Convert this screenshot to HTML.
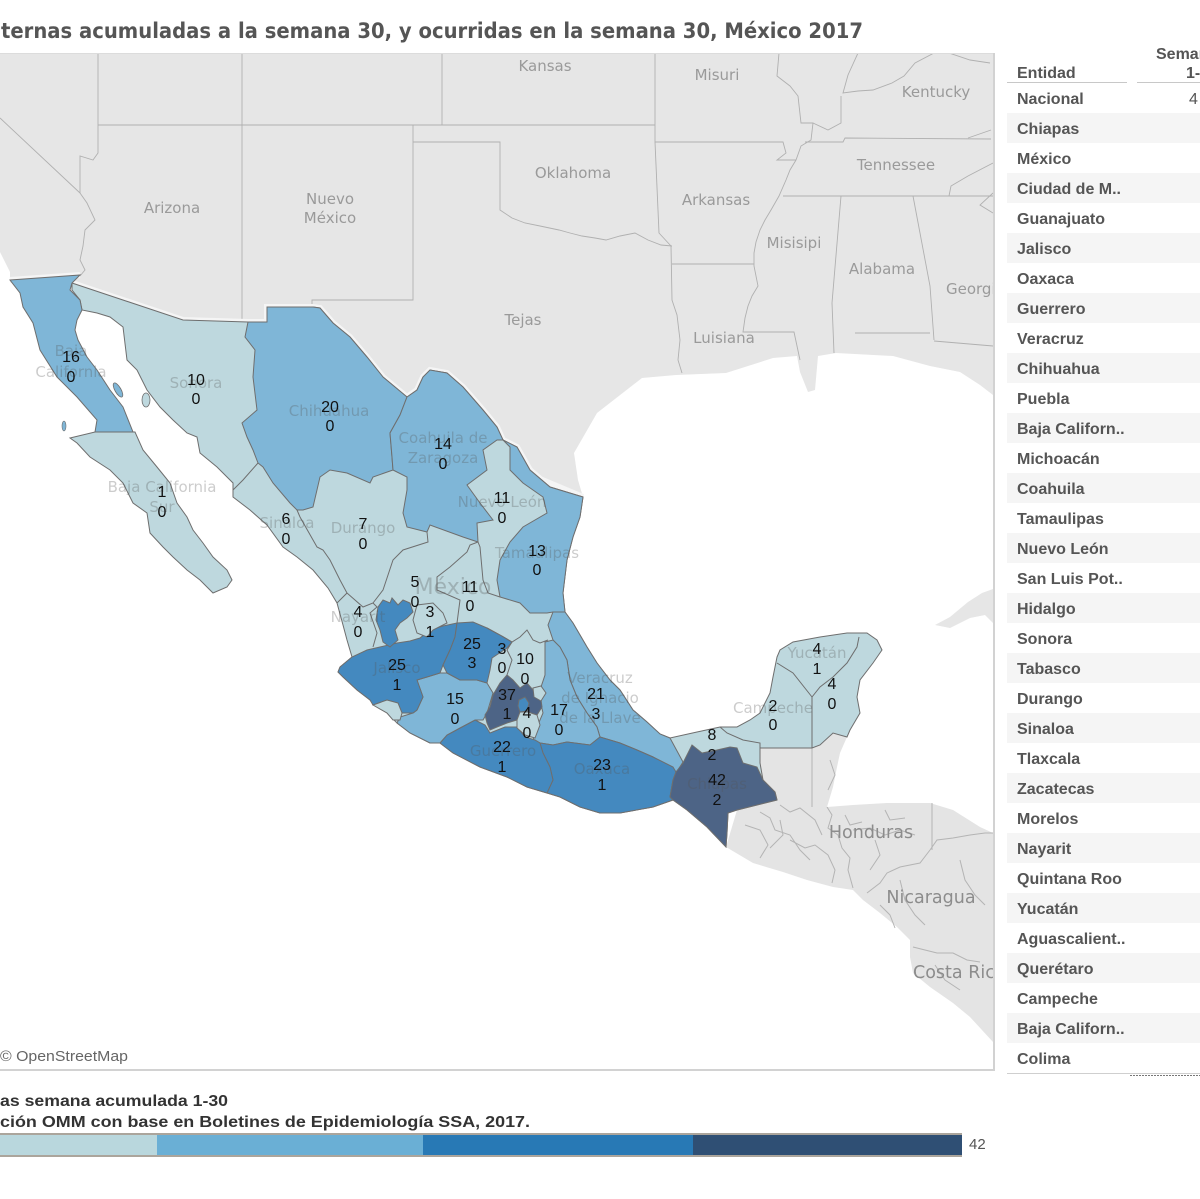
<!DOCTYPE html>
<html><head><meta charset="utf-8"><style>
html,body{margin:0;padding:0;width:1200px;height:1199px;overflow:hidden;background:#fff}
svg{display:block}
.us{font-family:"DejaVu Sans",sans-serif;font-size:15px;fill:#9a9a9a;text-anchor:middle}
.mx{font-family:"DejaVu Sans",sans-serif;font-size:15px;fill:#555;fill-opacity:.3;text-anchor:middle}
.ct{font-family:"DejaVu Sans",sans-serif;font-size:17.5px;fill:#8c8c8c;text-anchor:middle}
.n{font-family:"Liberation Sans",Arial,sans-serif;font-size:16px;fill:#111;text-anchor:middle}
.row{font-family:"Liberation Sans",Arial,sans-serif;font-size:16px;font-weight:bold;fill:#555}
</style></head><body>
<svg width="1200" height="1199" viewBox="0 0 1200 1199" xmlns="http://www.w3.org/2000/svg">
<defs><clipPath id="mc"><rect x="0" y="54" width="993" height="1014"/></clipPath></defs>

<!-- Title -->
<text x="1" y="38" font-family="DejaVu Sans, sans-serif" font-size="21" font-weight="bold" fill="#555" textLength="862" lengthAdjust="spacingAndGlyphs">ternas acumuladas a la semana 30, y ocurridas en la semana 30, México 2017</text>

<g clip-path="url(#mc)">
<rect x="0" y="53" width="993" height="1016" fill="#fff"/>
<!-- US land -->
<polygon fill="#e6e6e6" points="0,53 993,53 993,395 980,385 960,372 930,366 893,356 836,353 818,356 815,390 808,392 800,372 797,356 773,358 726,373 676,375 642,378 597,413 574,453 578,480 583,497 550,487 530,470 517,447 503,440 497,427 483,410 463,387 447,373 430,370 423,377 417,390 407,397 383,377 367,357 350,337 333,323 320,308 313,307 267,307 267,322 248,322 183,320 72,283 80,275 10,280 10,272 0,252"/>
<!-- Central America -->
<polygon fill="#e4e4e4" points="726,847 737,810 777,800 775,792 763,780 757,767 760,763 760,748 812,748 820,745 833,733 847,737 840,753 837,767 833,787 827,807 853,805 887,803 930,803 953,810 980,827 993,833 993,1042 970,1017 953,1003 930,987 913,973 910,957 910,940 897,927 880,913 863,900 853,890 833,887 807,880 783,872 753,863"/>
<!-- Cuba -->
<polygon fill="#e6e6e6" points="935,625 950,617 968,602 982,593 993,589 993,623 985,615 970,618 950,628"/>

<!-- US borders -->
<g fill="none" stroke="#b0b0b0" stroke-width="0.9">
<path d="M98,53 L98,125 L98,153 L93,160 L80,156 L80,193 L87,203 L95,220 L85,230 L83,246 L80,260 L85,270 L80,276"/>
<path d="M0,118 L80,193"/>
<path d="M98,125 L655,125"/>
<path d="M242,53 L242,320"/>
<path d="M442,53 L442,125"/>
<path d="M413,125 L413,300 L312,300 L312,306"/>
<path d="M413,142 L500,142 L500,210 L512,218 L525,223 L540,226 L559,230 L570,233 L582,236 L595,238 L606,240 L620,236 L635,233 L648,240 L661,245 L672,246"/>
<path d="M655,53 L655,142 L659,233 L671,246 L672,300 L677,315 L680,340 L678,360 L682,373"/>
<path d="M655,142 L783,142 L786,153 L777,160 L796,160"/>
<path d="M672,264 L754,264"/>
<path d="M779,53 L777,76 L790,86 L798,96 L801,123 L813,123 L811,140 L801,146 L796,160 L790,170 L786,180 L779,196 L771,210 L765,220 L760,230 L756,242 L754,253 L754,266 L758,286 L752,296 L748,306 L745,318 L743,332 L794,332 L800,360"/>
<path d="M858,53 L848,75 L843,93 L858,91 L873,90 L892,83 L904,76 L915,63 L934,53"/>
<path d="M841,96 L841,123 L828,130 L813,123"/>
<path d="M949,53 L970,60 L990,63"/>
<path d="M805,142 L843,142 L845,138 L991,139"/>
<path d="M968,138 L991,130"/>
<path d="M783,196 L993,196"/>
<path d="M841,196 L832,303 L834,353"/>
<path d="M913,196 L930,286 L934,340"/>
<path d="M855,333 L930,333"/>
<path d="M934,341 L993,346"/>
<path d="M949,196 L951,186 L968,176 L993,163"/>
<path d="M993,193 L980,205 L993,213"/>
</g>

<!-- Central America borders -->
<g fill="none" stroke="#b4b4b4" stroke-width="1">
<path d="M812,748 L812,807"/>
<path d="M827,807 L832,815 L828,828 L838,835 L842,848 L850,858 L848,870 L853,888"/>
<path d="M760,812 L770,818 L775,830 L790,835 L800,850 L810,860"/>
<path d="M780,805 L790,812 L800,808 L815,820 L822,835"/>
<path d="M745,825 L760,830 L768,845 L760,858"/>
<path d="M790,840 L805,848 L815,845 L828,855 L835,870 L832,883"/>
<path d="M853,830 L870,828 L885,835 L900,830 L915,835"/>
<path d="M867,893 L880,883 L887,873 L900,867 L920,863 L930,850 L937,840 L953,838 L970,835 L985,833 L993,833"/>
<path d="M932,803 L932,850"/>
<path d="M875,840 L880,855 L870,870"/>
<path d="M900,880 L905,900 L915,915 L925,925"/>
<path d="M913,947 L937,953 L953,953 L967,960 L980,962"/>
<path d="M935,965 L945,980 L960,990"/>
<path d="M880,905 L890,915 L895,928"/>
<path d="M960,860 L965,880 L975,895 L985,905"/>
<path d="M830,760 L835,775 L828,790"/>
<path d="M780,820 L783,835 L770,848"/>
<path d="M845,815 L850,825 L862,822"/>
<path d="M885,810 L890,820 L905,818"/>
</g>

<!-- Mexico halo -->
<polygon fill="none" stroke="#f5f5f5" stroke-width="6" points="72,283 183,320 248,322 267,322 267,307 313,307 320,308 333,323 350,337 367,357 383,377 407,397 417,390 423,377 430,370 447,373 463,387 483,410 497,427 503,440 517,447 530,470 550,487 583,497"/>
<polyline fill="none" stroke="#f5f5f5" stroke-width="6" points="10,280 80,275"/>

<!-- Mexico mainland (light base) -->
<polygon fill="#bed8de" stroke="#6e6e6e" stroke-width="1" points="72,283 183,320 248,322 267,322 267,307 313,307 320,308 333,323 350,337 367,357 383,377 407,397 417,390 423,377 430,370 447,373 463,387 483,410 497,427 503,440 517,447 530,470 550,487 583,497 580,517 573,537 567,560 563,593 565,612 573,623 587,647 597,663 610,680 620,690 633,710 647,722 660,734 670,738 697,732 720,727 737,727 750,720 760,713 770,693 773,677 777,657 780,650 793,642 820,637 847,633 867,633 877,640 882,650 873,663 860,680 857,697 860,713 850,730 847,737 833,733 820,745 812,748 760,748 760,763 763,780 775,792 777,800 737,810 728,813 727,833 726,847 707,827 687,810 673,800 653,807 620,813 600,813 580,807 560,797 547,793 527,787 507,777 480,767 453,753 440,743 430,743 410,733 397,723 387,713 377,707 370,700 357,690 343,677 338,672 340,667 352,657 347,640 343,625 337,603 328,588 313,570 297,557 283,547 267,525 250,510 233,497 233,483 217,467 200,453 197,437 187,433 173,420 160,407 147,390 137,370 127,360 123,327 110,317 97,313 82,310 80,300 72,290"/>

<!-- Baja California -->
<polygon fill="#7fb6d7" stroke="#6e6e6e" stroke-width="1" points="10,280 80,275 72,283 70,290 80,300 82,310 77,320 75,330 78,340 87,357 97,370 110,390 123,407 133,432 95,432 97,420 77,397 57,377 40,350 33,323 23,307 20,293"/>
<!-- Baja California Sur -->
<polygon fill="#bed8de" stroke="#6e6e6e" stroke-width="1" points="70,438 95,432 135,432 143,450 157,467 170,483 177,503 187,517 193,530 203,543 213,557 227,570 232,580 227,587 213,593 200,580 187,570 173,557 163,547 150,533 147,513 133,503 123,483 110,470 90,457 77,443"/>
<!-- islands -->
<ellipse cx="118" cy="390" rx="3" ry="8" fill="#7fb6d7" stroke="#6e6e6e" stroke-width=".8" transform="rotate(-30 118 390)"/>
<ellipse cx="146" cy="400" rx="4" ry="7" fill="#bed8de" stroke="#6e6e6e" stroke-width=".8"/>
<ellipse cx="64" cy="426" rx="2" ry="5" fill="#7fb6d7" stroke="#6e6e6e" stroke-width=".6"/>

<g stroke="#6e6e6e" stroke-width="1">
<!-- Chihuahua -->
<polygon fill="#7fb6d7" points="248,322 267,322 267,307 313,307 320,308 333,323 350,337 367,357 383,377 407,397 400,415 390,433 392,457 393,470 373,477 370,483 347,473 330,470 320,477 313,507 303,510 297,510 290,503 273,483 263,467 258,463 253,450 247,437 242,423 257,410 253,377 255,350 245,337"/>
<!-- Coahuila -->
<polygon fill="#7fb6d7" points="407,397 417,390 423,377 430,370 447,373 463,387 483,410 497,427 503,440 497,440 483,450 487,470 467,485 480,503 493,520 477,523 478,542 463,537 430,525 427,532 407,527 403,513 407,490 407,477 393,470 392,457 390,433 400,415"/>
<!-- Tamaulipas -->
<polygon fill="#7fb6d7" points="503,440 517,447 530,470 550,487 583,497 580,517 573,537 567,560 563,593 565,612 553,612 547,613 530,613 520,603 500,597 497,580 500,560 510,542 523,527 547,513 543,497 523,483 510,470 510,447"/>
<!-- Veracruz -->
<polygon fill="#7fb6d7" points="553,612 565,612 573,623 587,647 597,663 610,680 620,690 633,710 647,722 660,734 670,738 683,762 678,770 676,772 653,757 637,750 620,743 610,740 600,737 597,727 587,713 577,697 570,680 567,660 560,647 553,640 548,625"/>
<!-- Puebla -->
<polygon fill="#7fb6d7" points="545,642 553,640 560,647 567,660 570,680 577,697 587,713 597,727 600,737 590,745 567,742 553,745 540,743 533,740 537,727 543,713 540,700 540,690 545,675 545,655"/>
<!-- Oaxaca -->
<polygon fill="#4489bf" points="540,743 553,745 567,742 590,745 600,737 610,740 620,743 637,750 653,757 673,767 676,772 673,780 670,797 673,800 653,807 620,813 600,813 580,807 560,797 547,793 553,780 550,767 543,753"/>
<!-- Guerrero -->
<polygon fill="#4489bf" points="440,743 447,735 460,728 475,720 485,725 490,733 505,727 517,727 525,737 535,740 540,743 543,753 550,767 553,780 547,793 527,787 507,777 480,767 453,753"/>
<!-- Michoacan -->
<polygon fill="#7fb6d7" points="397,723 400,717 413,713 417,710 423,697 417,680 427,677 440,673 447,673 460,680 477,680 487,683 493,693 487,713 483,720 475,720 460,728 447,735 440,743 430,743 410,733"/>
<!-- Jalisco -->
<polygon fill="#4489bf" points="338,672 340,667 352,657 367,650 380,647 397,643 410,641 420,638 430,630 443,626 457,623 455,637 450,650 443,665 440,673 427,677 417,680 423,697 417,710 413,713 402,713 398,703 387,700 373,705 370,700 357,690 343,677"/>
<polygon fill="#4489bf" points="378,607 383,600 390,603 392,598 398,605 403,600 410,603 413,612 407,618 400,623 395,630 398,640 390,647 383,642 380,630 376,620"/>
<!-- Colima -->
<polygon fill="#bed8de" points="373,705 387,700 398,703 402,713 400,720 393,720 387,713"/>
<!-- Guanajuato -->
<polygon fill="#4489bf" points="457,623 473,622 487,628 500,635 512,642 507,648 492,658 490,670 487,683 477,680 460,680 447,673 443,665 450,650 455,637"/>
<!-- Edo Mexico -->
<polygon fill="#4d6486" points="487,723 485,715 490,707 493,695 500,683 507,675 513,680 520,688 527,683 533,690 540,692 542,707 537,715 528,712 520,712 517,720 507,723 497,727 490,730"/>
<!-- CDMX -->
<polygon fill="#4489bf" points="519,700 525,697 529,703 527,711 520,712 518,706"/>
<!-- Morelos -->
<polygon fill="#bed8de" points="517,720 520,712 528,712 537,715 540,725 535,738 525,735 517,728"/>
<!-- Tlaxcala -->
<polygon fill="#bed8de" points="533,688 541,686 546,693 541,701 534,697"/>
<!-- Chiapas -->
<polygon fill="#4d6486" points="692,745 702,753 717,750 730,747 737,748 743,763 757,767 763,780 775,792 777,800 737,810 728,813 727,833 726,847 707,827 687,810 673,800 670,797 673,780 676,772 683,763"/>
<!-- Aguascalientes -->
<polygon fill="#bed8de" points="417,605 433,603 443,613 447,623 433,630 427,637 417,633 413,620"/>
</g>

<!-- light-state borders -->
<g fill="none" stroke="#6e6e6e" stroke-width="1">
<polyline points="258,463 243,480 233,490"/>
<polyline points="297,510 300,517 317,547 323,550 330,560 340,580 347,593 337,603"/>
<polyline points="347,593 363,607 373,603 383,590 393,560 403,550 428,542 427,532"/>
<polyline points="373,603 377,607 370,613 377,633 373,647"/>
<polyline points="478,542 470,545 467,552 450,567 437,577 437,590 460,600 457,623"/>
<polyline points="478,542 480,547 483,580 488,593 500,597"/>
<polyline points="487,628 500,635 512,642 520,637 527,630 533,640 540,643 548,640"/>
<polyline points="512,642 507,650 512,660 507,675"/>
<polyline points="720,727 727,733 743,740 760,743 760,748"/>
<polyline points="777,663 793,673 812,697"/>
<polyline points="812,697 820,687 833,677 847,663 857,647 859,637"/>
<polyline points="812,697 812,748"/>
</g>

<!-- US / CA labels -->
<text class="us" x="545" y="71">Kansas</text>
<text class="us" x="717" y="80">Misuri</text>
<text class="us" x="936" y="97">Kentucky</text>
<text class="us" x="573" y="178">Oklahoma</text>
<text class="us" x="896" y="170">Tennessee</text>
<text class="us" x="172" y="213">Arizona</text>
<text class="us" x="330" y="204">Nuevo</text>
<text class="us" x="330" y="223">México</text>
<text class="us" x="716" y="205">Arkansas</text>
<text class="us" x="794" y="248">Misisipi</text>
<text class="us" x="882" y="274">Alabama</text>
<text class="us" x="946" y="294" style="text-anchor:start">Georgia</text>
<text class="us" x="523" y="325">Tejas</text>
<text class="us" x="724" y="343">Luisiana</text>
<text class="ct" x="871" y="838">Honduras</text>
<text class="ct" x="931" y="903">Nicaragua</text>
<text class="ct" x="913" y="978" style="text-anchor:start">Costa Rica</text>

<!-- Mexico state name labels -->
<text class="mx" x="71" y="356">Baja</text>
<text class="mx" x="71" y="377">California</text>
<text class="mx" x="196" y="388">Sonora</text>
<text class="mx" x="329" y="416">Chihuahua</text>
<text class="mx" x="443" y="443">Coahuila de</text>
<text class="mx" x="443" y="463">Zaragoza</text>
<text class="mx" x="162" y="492">Baja California</text>
<text class="mx" x="162" y="512">Sur</text>
<text class="mx" x="287" y="528">Sinaloa</text>
<text class="mx" x="363" y="533">Durango</text>
<text class="mx" x="502" y="507">Nuevo León</text>
<text class="mx" x="537" y="558">Tamaulipas</text>
<text class="mx" x="453" y="594" style="font-size:22px">México</text>
<text class="mx" x="358" y="622">Nayarit</text>
<text class="mx" x="397" y="673">Jalisco</text>
<text class="mx" x="600" y="683">Veracruz</text>
<text class="mx" x="600" y="703">de Ignacio</text>
<text class="mx" x="600" y="723">de la Llave</text>
<text class="mx" x="503" y="756">Guerrero</text>
<text class="mx" x="602" y="774">Oaxaca</text>
<text class="mx" x="817" y="658">Yucatán</text>
<text class="mx" x="773" y="713">Campeche</text>
<text class="mx" x="717" y="789">Chiapas</text>

<!-- data labels -->
<g>
<text class="n" x="71" y="362">16</text><text class="n" x="71" y="382">0</text>
<text class="n" x="196" y="385">10</text><text class="n" x="196" y="404">0</text>
<text class="n" x="330" y="412">20</text><text class="n" x="330" y="431">0</text>
<text class="n" x="443" y="449">14</text><text class="n" x="443" y="469">0</text>
<text class="n" x="502" y="503">11</text><text class="n" x="502" y="523">0</text>
<text class="n" x="162" y="497">1</text><text class="n" x="162" y="517">0</text>
<text class="n" x="286" y="524">6</text><text class="n" x="286" y="544">0</text>
<text class="n" x="363" y="529">7</text><text class="n" x="363" y="549">0</text>
<text class="n" x="537" y="556">13</text><text class="n" x="537" y="575">0</text>
<text class="n" x="415" y="587">5</text><text class="n" x="415" y="607">0</text>
<text class="n" x="470" y="592">11</text><text class="n" x="470" y="611">0</text>
<text class="n" x="358" y="617">4</text><text class="n" x="358" y="637">0</text>
<text class="n" x="430" y="617">3</text><text class="n" x="430" y="637">1</text>
<text class="n" x="472" y="649">25</text><text class="n" x="472" y="668">3</text>
<text class="n" x="502" y="654">3</text><text class="n" x="502" y="673">0</text>
<text class="n" x="525" y="664">10</text><text class="n" x="525" y="684">0</text>
<text class="n" x="397" y="670">25</text><text class="n" x="397" y="690">1</text>
<text class="n" x="507" y="700">37</text><text class="n" x="507" y="719">1</text>
<text class="n" x="527" y="718">4</text><text class="n" x="527" y="738">0</text>
<text class="n" x="455" y="704">15</text><text class="n" x="455" y="724">0</text>
<text class="n" x="559" y="715">17</text><text class="n" x="559" y="735">0</text>
<text class="n" x="596" y="699">21</text><text class="n" x="596" y="719">3</text>
<text class="n" x="502" y="752">22</text><text class="n" x="502" y="772">1</text>
<text class="n" x="602" y="770">23</text><text class="n" x="602" y="790">1</text>
<text class="n" x="712" y="740">8</text><text class="n" x="712" y="760">2</text>
<text class="n" x="717" y="785">42</text><text class="n" x="717" y="805">2</text>
<text class="n" x="773" y="711">2</text><text class="n" x="773" y="730">0</text>
<text class="n" x="817" y="654">4</text><text class="n" x="817" y="674">1</text>
<text class="n" x="832" y="689">4</text><text class="n" x="832" y="709">0</text>
</g>

<text x="0" y="1061" font-family="Liberation Sans, Arial, sans-serif" font-size="15" fill="#666" textLength="128" lengthAdjust="spacingAndGlyphs">© OpenStreetMap</text>
</g>

<!-- map frame -->
<line x1="0" y1="53.5" x2="993" y2="53.5" stroke="#dcdcdc" stroke-width="1"/>
<line x1="994" y1="53" x2="994" y2="1071" stroke="#d2d2d2" stroke-width="2"/>
<line x1="0" y1="1070" x2="995" y2="1070" stroke="#d2d2d2" stroke-width="2"/>

<!-- Table -->
<g>
<rect x="1007" y="113" width="193" height="30" fill="#f5f5f5"/>
<rect x="1007" y="173" width="193" height="30" fill="#f5f5f5"/>
<rect x="1007" y="233" width="193" height="30" fill="#f5f5f5"/>
<rect x="1007" y="293" width="193" height="30" fill="#f5f5f5"/>
<rect x="1007" y="353" width="193" height="30" fill="#f5f5f5"/>
<rect x="1007" y="413" width="193" height="30" fill="#f5f5f5"/>
<rect x="1007" y="473" width="193" height="30" fill="#f5f5f5"/>
<rect x="1007" y="533" width="193" height="30" fill="#f5f5f5"/>
<rect x="1007" y="593" width="193" height="30" fill="#f5f5f5"/>
<rect x="1007" y="653" width="193" height="30" fill="#f5f5f5"/>
<rect x="1007" y="713" width="193" height="30" fill="#f5f5f5"/>
<rect x="1007" y="773" width="193" height="30" fill="#f5f5f5"/>
<rect x="1007" y="833" width="193" height="30" fill="#f5f5f5"/>
<rect x="1007" y="893" width="193" height="30" fill="#f5f5f5"/>
<rect x="1007" y="953" width="193" height="30" fill="#f5f5f5"/>
<rect x="1007" y="1013" width="193" height="30" fill="#f5f5f5"/>
<line x1="1007" y1="82.5" x2="1127" y2="82.5" stroke="#c8c8c8"/>
<line x1="1137" y1="82.5" x2="1200" y2="82.5" stroke="#c8c8c8"/>
<line x1="1007" y1="1073.5" x2="1200" y2="1073.5" stroke="#cfcfcf"/>
<line x1="1130" y1="1075.5" x2="1200" y2="1075.5" stroke="#777" stroke-dasharray="2,1"/>
<text class="row" x="1156" y="59">Semana</text>
<text class="row" x="1186" y="78">1-30</text>
<text class="row" x="1017" y="78">Entidad</text>
<text class="row" x="1189" y="104" style="font-weight:normal">4</text>
<text class="row" x="1017" y="104">Nacional</text>
<text class="row" x="1017" y="134">Chiapas</text>
<text class="row" x="1017" y="164">México</text>
<text class="row" x="1017" y="194">Ciudad de M..</text>
<text class="row" x="1017" y="224">Guanajuato</text>
<text class="row" x="1017" y="254">Jalisco</text>
<text class="row" x="1017" y="284">Oaxaca</text>
<text class="row" x="1017" y="314">Guerrero</text>
<text class="row" x="1017" y="344">Veracruz</text>
<text class="row" x="1017" y="374">Chihuahua</text>
<text class="row" x="1017" y="404">Puebla</text>
<text class="row" x="1017" y="434">Baja Californ..</text>
<text class="row" x="1017" y="464">Michoacán</text>
<text class="row" x="1017" y="494">Coahuila</text>
<text class="row" x="1017" y="524">Tamaulipas</text>
<text class="row" x="1017" y="554">Nuevo León</text>
<text class="row" x="1017" y="584">San Luis Pot..</text>
<text class="row" x="1017" y="614">Hidalgo</text>
<text class="row" x="1017" y="644">Sonora</text>
<text class="row" x="1017" y="674">Tabasco</text>
<text class="row" x="1017" y="704">Durango</text>
<text class="row" x="1017" y="734">Sinaloa</text>
<text class="row" x="1017" y="764">Tlaxcala</text>
<text class="row" x="1017" y="794">Zacatecas</text>
<text class="row" x="1017" y="824">Morelos</text>
<text class="row" x="1017" y="854">Nayarit</text>
<text class="row" x="1017" y="884">Quintana Roo</text>
<text class="row" x="1017" y="914">Yucatán</text>
<text class="row" x="1017" y="944">Aguascalient..</text>
<text class="row" x="1017" y="974">Querétaro</text>
<text class="row" x="1017" y="1004">Campeche</text>
<text class="row" x="1017" y="1034">Baja Californ..</text>
<text class="row" x="1017" y="1064">Colima</text>
</g>

<!-- Legend -->
<text x="0" y="1106" font-family="Liberation Sans, Arial, sans-serif" font-size="15.5" font-weight="bold" fill="#333" textLength="228" lengthAdjust="spacingAndGlyphs">as semana acumulada 1-30</text>
<text x="0" y="1127" font-family="Liberation Sans, Arial, sans-serif" font-size="15.5" font-weight="bold" fill="#333" textLength="530" lengthAdjust="spacingAndGlyphs">ción OMM con base en Boletines de Epidemiología SSA, 2017.</text>
<rect x="0" y="1133" width="962" height="24" fill="#aba59c"/>
<rect x="0" y="1135" width="157" height="20" fill="#b9d7dd"/>
<rect x="157" y="1135" width="266" height="20" fill="#6aafd5"/>
<rect x="423" y="1135" width="270" height="20" fill="#2879b5"/>
<rect x="693" y="1135" width="269" height="20" fill="#2f4f74"/>
<text x="969" y="1149" font-family="Liberation Sans, Arial, sans-serif" font-size="15" fill="#555">42</text>
</svg>
</body></html>
